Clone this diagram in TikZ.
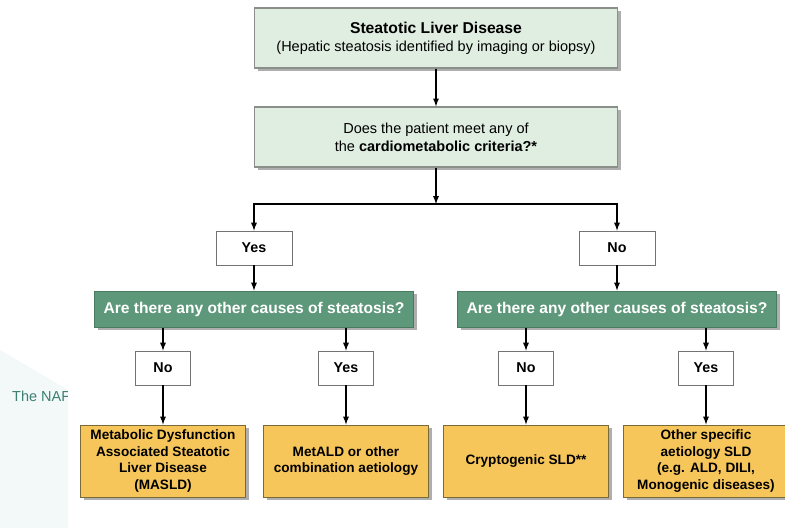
\documentclass[tikz,border=0pt]{standalone}
\usepackage{fontspec}
\setmainfont{Liberation Sans}
\usepackage{tikz}
\usepackage{xcolor}
\usetikzlibrary{arrows,shadows,positioning}

\definecolor{mintfill}{HTML}{E0EEE2}
\definecolor{mintline}{HTML}{8A8F8A}
\definecolor{qgreen}{HTML}{5E987A}
\definecolor{qline}{HTML}{4A7A60}
\definecolor{outfill}{HTML}{F7C65A}
\definecolor{outline}{HTML}{7A6A3A}
\definecolor{panel}{HTML}{F3F8F8}
\definecolor{tealtext}{HTML}{3B8071}

\begin{document}
\begin{tikzpicture}[x=1pt,y=-1pt,
shade/.style={drop shadow={shadow xshift=3pt,shadow yshift=-3pt,opacity=0.45,fill=black!70}},
topbox/.style={rectangle,draw=mintline,line width=1.2pt,fill=mintfill,shade,minimum width=363pt,minimum height=60pt,align=center,font=\fontsize{14.5}{18}\selectfont},
ansbox/.style={rectangle,draw=black!55,line width=0.8pt,fill=white,minimum height=34pt,font=\fontsize{14.3}{16}\selectfont\bfseries},
qbox/.style={rectangle,draw=qline,line width=1pt,fill=qgreen,shade,minimum width=319pt,minimum height=36pt,text=white,font=\fontsize{15.6}{17}\selectfont\bfseries},
outbox/.style={rectangle,draw=outline,line width=1pt,fill=outfill,shade,minimum width=165pt,minimum height=72pt,align=center,font=\fontsize{13.6}{16.5}\selectfont\bfseries},
arr/.style={-latex,line width=1.7pt}]
 \clip (0,0) rectangle (785,528);
 \fill[white] (0,0) rectangle (785,528);
 % side panel
 \fill[panel] (0,350) -- (68,390) -- (68,528) -- (0,528) -- cycle;
 \begin{scope}
  \clip (0,350) rectangle (67,528);
  \node[anchor=west,text=tealtext,font=\fontsize{14.5}{16}\selectfont,inner sep=0pt] (naf) at (12,396) {The NAF};
 \end{scope}
 % top of the chart
 \node[topbox] (sld) at (436,38) {{\fontsize{15.7}{18}\selectfont\bfseries Steatotic Liver Disease}\\(Hepatic steatosis identified by imaging or biopsy)};
 \node[topbox] (crit) at (436,137) {Does the patient meet any of\\the \textbf{cardiometabolic criteria?*}};
 \coordinate (fork) at (436,204);
 \node[ansbox,minimum width=76pt] (yes) at (254,248) {Yes};
 \node[ansbox,minimum width=76pt] (no) at (617,248) {No};
 \node[qbox] (qL) at (254,309) {Are there any other causes of steatosis?};
 \node[qbox] (qR) at (617,309) {Are there any other causes of steatosis?};
 \draw[arr] (sld) -- (crit);
 \draw[arr] (crit) -- (fork);
 \draw[arr] (fork) -| (yes);
 \draw[arr] (fork) -| (no);
 \draw[arr] (yes) -- (qL);
 \draw[arr] (no) -- (qR);
 % second answers
 \foreach \N/\X/\T in {aL1/163/No,aL2/346/Yes,aR1/526/No,aR2/706/Yes}
    {\node[ansbox,minimum width=55pt] (\N) at (\X,368) {\T};}
 \node[outbox] (oL1) at (163,461) {Metabolic Dysfunction\\Associated Steatotic\\Liver Disease\\(MASLD)};
 \node[outbox] (oL2) at (346,461) {MetALD or other\\combination aetiology};
 \node[outbox] (oR1) at (526,461) {Cryptogenic SLD**};
 \node[outbox] (oR2) at (706,461) {Other specific\\aetiology SLD\\(e.g. ALD, DILI,\\Monogenic diseases)};
 \foreach \N in {aL1,aL2} \draw[arr] (qL.south -| \N) -- (\N);
 \foreach \N in {aR1,aR2} \draw[arr] (qR.south -| \N) -- (\N);
 \foreach \X in {L1,L2,R1,R2} \draw[arr] (a\X) -- (o\X);
\end{tikzpicture}
\end{document}
